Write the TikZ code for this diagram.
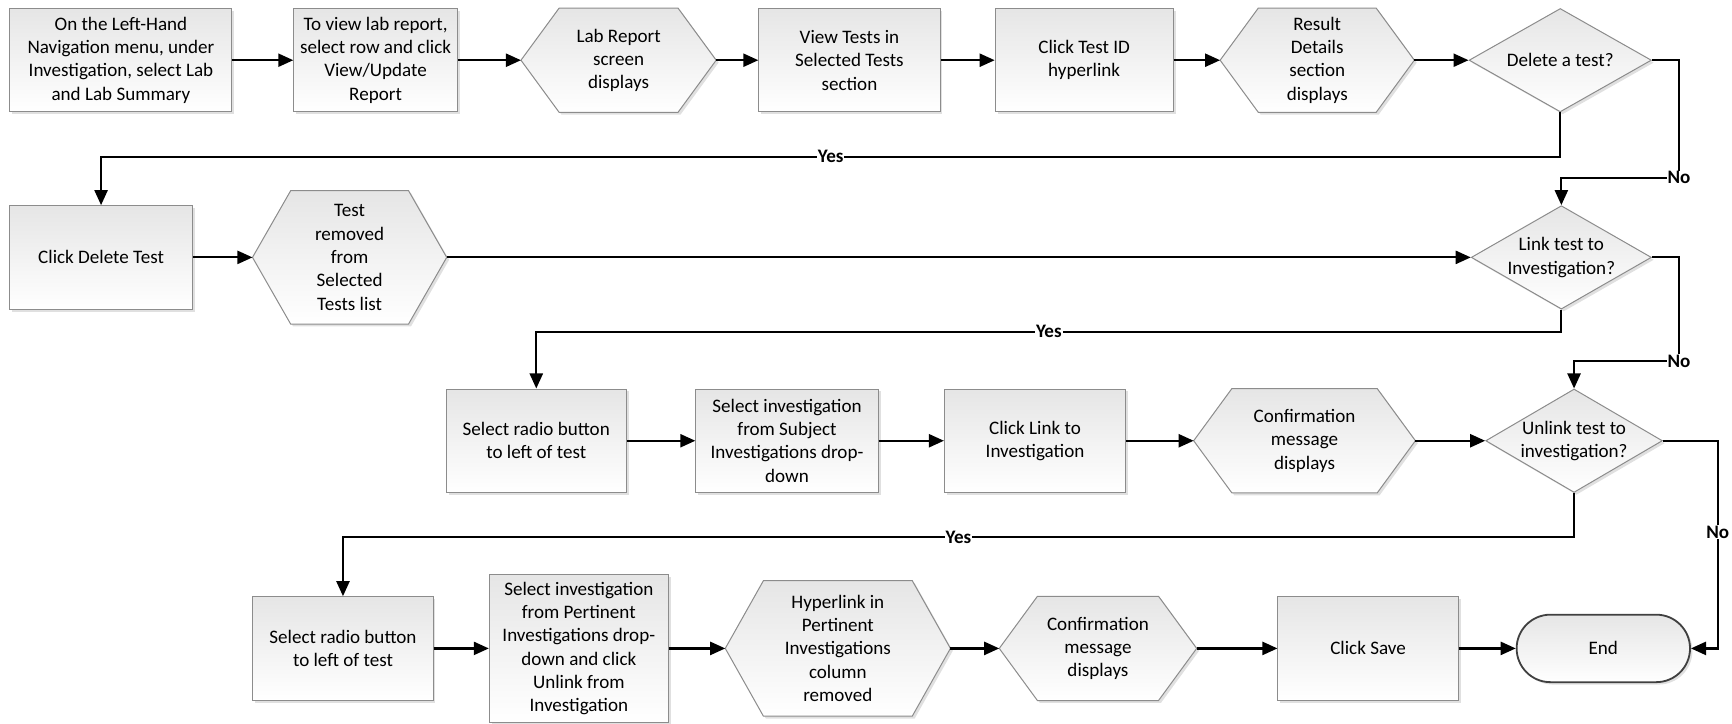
\documentclass[tikz,border=0pt]{standalone}
\usepackage{fontspec}
\setmainfont{Carlito}
\usetikzlibrary{arrows.meta, shapes.geometric, shapes.misc, shadows, backgrounds}
\colorlet{boxline}{black!45}
\colorlet{boxtop}{black!10}
\colorlet{boxbottom}{white}
\colorlet{endline}{black!75}

\begin{document}
\begin{tikzpicture}[x=0.55pt, y=-0.55pt,
		every node/.style={font=\fontsize{9.5}{11.6}\selectfont, align=center},
		shadowed/.style={drop shadow={shadow xshift=1.2pt, shadow yshift=-1.2pt, opacity=0.2, fill=black!60}},
		stepbox/.style={rectangle, draw=boxline, line width=0.5pt, top color=boxtop, bottom color=boxbottom, minimum height=51.5pt, inner sep=2pt, shadowed},
		hexbox/.style={rectangle, minimum height=51.5pt, inner sep=2pt},
		hexfill/.style={draw=boxline, line width=0.5pt, top color=boxtop, bottom color=boxbottom, shadowed},
		decision/.style={diamond, aspect=1.75, inner xsep=-4pt, inner ysep=0pt, draw=boxline, line width=0.5pt, top color=boxtop, bottom color=boxbottom, minimum height=51.5pt, shadowed},
		stopbox/.style={rounded rectangle, draw=endline, line width=0.9pt, top color=boxtop, bottom color=boxbottom, minimum width=93pt, minimum height=33.6pt, shadowed},
		conn/.style={line width=1.1pt, -{Triangle[length=7.5pt, width=6.5pt]}},
		yesno/.style={font=\fontsize{9.5}{11}\selectfont\bfseries, fill=white, inner sep=0.5pt}]
		\useasboundingbox (0,0) rectangle (1568,655);
		\coordinate (noa) at (1520,161);
		\coordinate (nob) at (1520,327);
		\coordinate (noc) at (1555,587);
		\node[stepbox, minimum width=110.5pt] (nav) at (109.5,54.5) {On the Left-Hand\\Navigation menu, under\\Investigation, select Lab\\and Lab Summary};
		\node[stepbox, minimum width=81.4pt] (selrow) at (340,54.5) {To view lab report,\\select row and click\\View/Update\\Report};
		\node[hexbox, minimum width=96.8pt] (labrep) at (560,54.5) {Lab Report\\screen\\displays};
		\node[stepbox, minimum width=90.2pt] (viewtests) at (769,54.5) {View Tests in\\Selected Tests\\section};
		\node[stepbox, minimum width=88.6pt] (clickid) at (981.5,54.5) {Click Test ID\\hyperlink};
		\node[hexbox, minimum width=96.3pt] (details) at (1192.5,54.5) {Result\\Details\\section\\displays};
		\node[decision, minimum width=90.8pt] (delq) at (1412.5,54.5) {Delete a test?};
		\node[stepbox, minimum width=90.8pt] (clickdel) at (91.5,233) {Click Delete Test};
		\node[hexbox, minimum width=96.3pt, minimum height=66pt] (removed) at (316.5,233) {Test\\removed\\from\\Selected\\Tests list};
		\node[decision, minimum width=89.7pt] (linkq) at (1413.5,233) {Link test to\\Investigation?};
		\node[stepbox, minimum width=89.7pt] (radioa) at (485.5,399) {Select radio button\\to left of test};
		\node[stepbox, minimum width=90.8pt] (subjinv) at (712.5,399) {Select investigation\\from Subject\\Investigations drop-\\down};
		\node[stepbox, minimum width=90.2pt] (clicklink) at (937,399) {Click Link to\\Investigation};
		\node[hexbox, minimum width=110pt] (confa) at (1181,399) {Confirmation\\message\\displays};
		\node[decision, minimum width=88pt] (unlinkq) at (1425,399) {Unlink test to\\investigation?};
		\node[stepbox, minimum width=89.7pt] (radiob) at (310.5,587) {Select radio button\\to left of test};
		\node[stepbox, minimum width=89.1pt, minimum height=73.7pt] (pertinv) at (524,587) {Select investigation\\from Pertinent\\Investigations drop-\\down and click\\Unlink from\\Investigation};
		\node[hexbox, minimum width=111.7pt, minimum height=67.1pt] (hyprem) at (758.5,587) {Hyperlink in\\Pertinent\\Investigations\\column\\removed};
		\node[hexbox, minimum width=97.9pt] (confb) at (994,587) {Confirmation\\message\\displays};
		\node[stepbox, minimum width=89.7pt] (save) at (1238.5,587) {Click Save};
		\node[stopbox] (finish) at (1451.5,587) {End};
		\begin{pgfonlayer}{background}
			\foreach \h in {labrep, details, removed, confa, hyprem, confb}
				\path[hexfill] (\h.west) -- ([xshift=19pt]\h.north west) -- ([xshift=-19pt]\h.north east) -- (\h.east) -- ([xshift=-19pt]\h.south east) -- ([xshift=19pt]\h.south west) -- cycle;
		\end{pgfonlayer}
		\draw[conn] (nav.east) -- (selrow.west);
		\draw[conn] (selrow.east) -- (labrep.west);
		\draw[conn] (labrep.east) -- (viewtests.west);
		\draw[conn] (viewtests.east) -- (clickid.west);
		\draw[conn] (clickid.east) -- (details.west);
		\draw[conn] (details.east) -- (delq.west);
		\draw[conn] (delq.south) -- ++(0,40) -| node[yesno, pos=0.25] {Yes} (clickdel.north);
		\draw[conn] (delq.east) -| (noa) node[yesno] {No} -| (linkq.north);
		\draw[conn] (clickdel.east) -- (removed.west);
		\draw[conn] (removed.east) -- (linkq.west);
		\draw[conn] (linkq.south) -- ++(0,20) -| node[yesno, pos=0.25] {Yes} (radioa.north);
		\draw[conn] (linkq.east) -| (nob) node[yesno] {No} -| (unlinkq.north);
		\draw[conn] (radioa.east) -- (subjinv.west);
		\draw[conn] (subjinv.east) -- (clicklink.west);
		\draw[conn] (clicklink.east) -- (confa.west);
		\draw[conn] (confa.east) -- (unlinkq.west);
		\draw[conn] (unlinkq.south) -- ++(0,40) -| node[yesno, pos=0.25] {Yes} (radiob.north);
		\draw[conn] (unlinkq.east) -| node[yesno, pos=0.72] {No} (noc) -- (finish.east);
		\draw[conn] (radiob.east) -- (pertinv.west);
		\draw[conn] (pertinv.east) -- (hyprem.west);
		\draw[conn] (hyprem.east) -- (confb.west);
		\draw[conn] (confb.east) -- (save.west);
		\draw[conn] (save.east) -- (finish.west);
	\end{tikzpicture}
\end{document}
